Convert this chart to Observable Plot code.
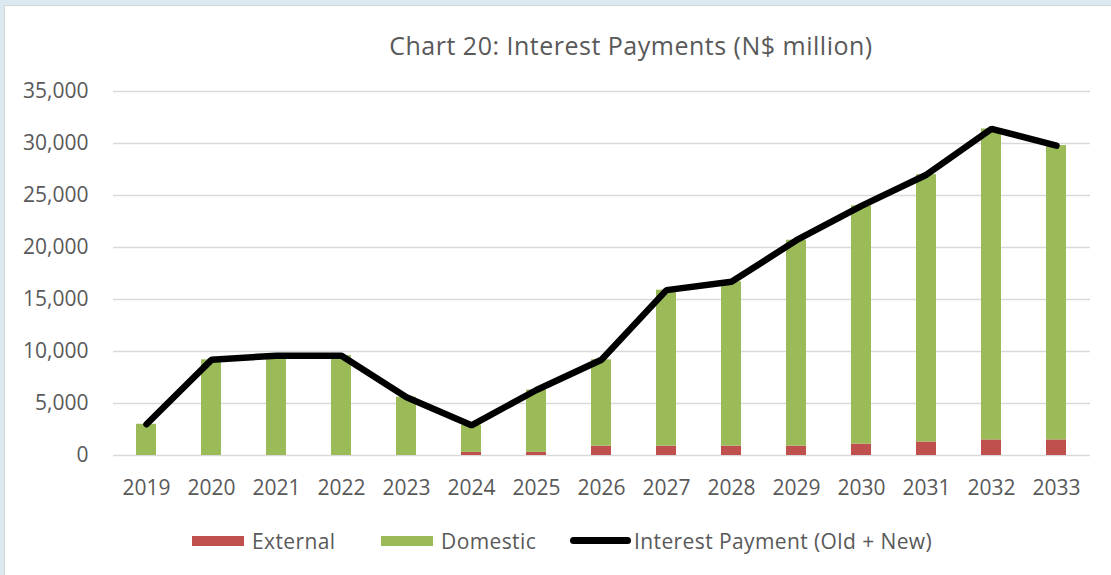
<!DOCTYPE html>
<html>
<head>
<meta charset="utf-8">
<script src="https://cdn.jsdelivr.net/npm/d3@7"></script>
<script src="https://cdn.jsdelivr.net/npm/@observablehq/plot@0.6"></script>
<style>
  html, body { margin: 0; padding: 0; }
  body { width: 1111px; height: 575px; background: #dce9f1; position: relative; overflow: hidden; font-family: "Open Sans", sans-serif; color: #595959; }
  #frame { position: absolute; left: 4px; top: 5px; width: 1107px; height: 570px; background: #fff; border-left: 1px solid #d4d4d4; border-top: 1px solid #d4d4d4; box-sizing: border-box; }
  #chart { position: absolute; left: 0; top: 0; }
  #title { position: absolute; left: 631px; top: 28px; transform: translateX(-50%); font-size: 25px; letter-spacing: 0.5px; white-space: nowrap; }
  #legend { position: absolute; left: 192px; top: 526px; display: flex; align-items: center; font-size: 21px; letter-spacing: 0.4px; height: 29px; white-space: nowrap; }
  .item { display: flex; align-items: center; min-width: 189px; }
  .sw { width: 52px; height: 10px; margin-right: 8px; }
  .ln { width: 61px; height: 7px; border-radius: 4px; background: #000; margin-right: 3px; }
</style>
</head>
<body>
<div id="frame"></div>
<div id="chart"></div>
<div id="title">Chart 20: Interest Payments (N$ million)</div>
<div id="legend"></div>
<script>
const years = ["2019","2020","2021","2022","2023","2024","2025","2026","2027","2028","2029","2030","2031","2032","2033"];
const external = [0, 0, 0, 0, 0, 300, 300, 900, 900, 900, 900, 1100, 1300, 1500, 1500];
const domestic = [3000, 9200, 9600, 9600, 5600, 2600, 6000, 8300, 15000, 15800, 19800, 22900, 25700, 29900, 28300];
const totalPayment = [3000, 9200, 9600, 9600, 5600, 2900, 6300, 9200, 15900, 16700, 20700, 24000, 27000, 31400, 29800];
const seriesNames = ["External", "Domestic"];
const seriesColors = ["#c0504d", "#9bbb59"];
const lineName = "Interest Payment (Old + New)";
const yTicks = [0, 5000, 10000, 15000, 20000, 25000, 30000, 35000];

const bars = years.flatMap((y, i) => [
  {year: y, series: "External", value: external[i]},
  {year: y, series: "Domestic", value: domestic[i]}
]);
const lineData = years.map((y, i) => ({year: y, total: totalPayment[i]}));

const chart = Plot.plot({
  width: 1111,
  height: 500,
  marginTop: 91,
  marginBottom: 45,
  marginLeft: 113,
  marginRight: 21,
  style: {fontFamily: "Open Sans", fontSize: "21px", color: "#595959", background: "transparent", overflow: "visible"},
  x: {type: "band", domain: years, paddingInner: 0.69, paddingOuter: 0.345, align: 0.5},
  y: {domain: [0, 35000]},
  color: {domain: seriesNames, range: seriesColors},
  marks: [
    Plot.gridY(yTicks, {stroke: "#d9d9d9", strokeOpacity: 1, strokeWidth: 1.5}),
    Plot.barY(bars, Plot.stackY({x: "year", y: "value", fill: "series", order: seriesNames})),
    Plot.line(lineData, {x: "year", y: "total", stroke: "#000", strokeWidth: 6.5, strokeLinecap: "round", strokeLinejoin: "miter"}),
    Plot.axisY({ticks: yTicks, tickFormat: d3.format(","), tickSize: 0, tickPadding: 25, label: null, fill: "#595959", fontSize: 21}),
    Plot.axisX({tickSize: 0, tickPadding: 25, label: null, fill: "#595959", fontSize: 21})
  ]
});
document.getElementById("chart").appendChild(chart);

const legend = document.getElementById("legend");
seriesNames.forEach((name, i) => {
  const it = document.createElement("div");
  it.className = "item";
  it.innerHTML = `<span class="sw" style="background:${seriesColors[i]}"></span><span>${name}</span>`;
  legend.appendChild(it);
});
const li = document.createElement("div");
li.className = "item";
li.innerHTML = `<span class="ln"></span><span>${lineName}</span>`;
legend.appendChild(li);
</script>
</body>
</html>
